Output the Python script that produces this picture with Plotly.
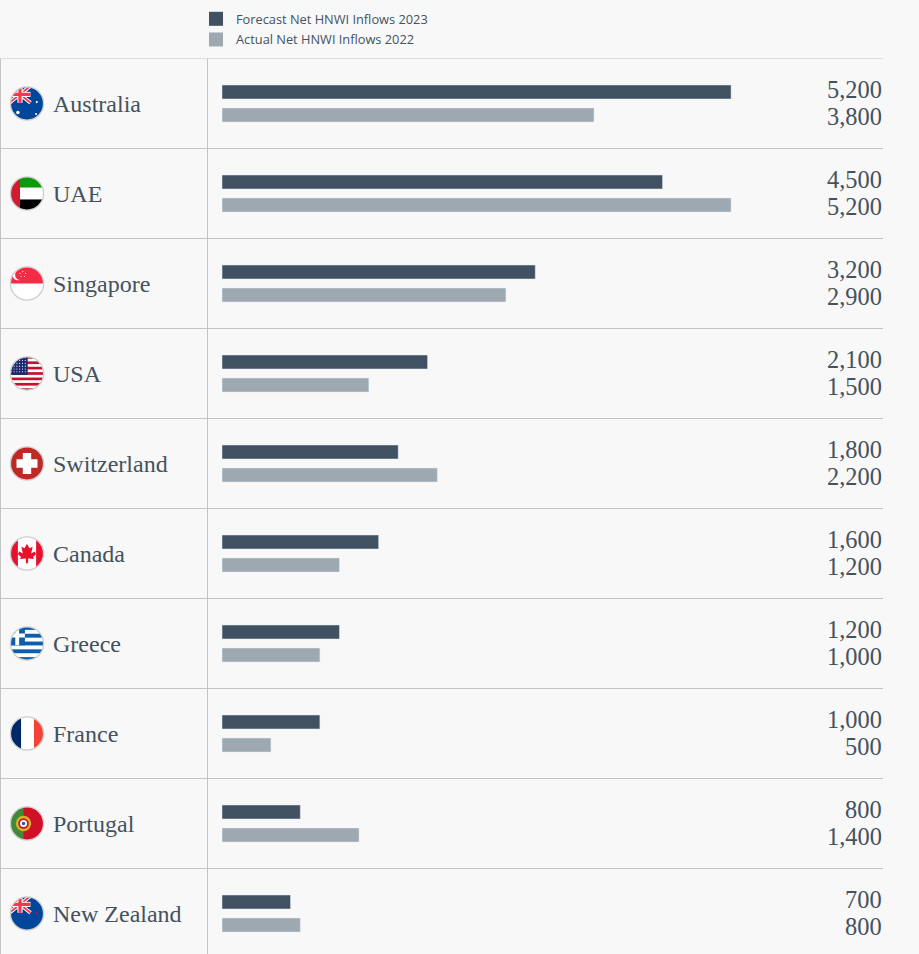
import base64
import plotly.graph_objects as go

# Data
countries = ['Australia', 'UAE', 'Singapore', 'USA', 'Switzerland',
             'Canada', 'Greece', 'France', 'Portugal', 'New Zealand']
forecast_2023 = [5200, 4500, 3200, 2100, 1800, 1600, 1200, 1000, 800, 700]
actual_2022 = [3800, 5200, 2900, 1500, 2200, 1200, 1000, 500, 1400, 800]

W, H = 919, 954
TOP = 58.5
DARK = '#405261'
LIGHT = '#9ea8b1'
TEXT = '#44525e'
RULE = '#c4c4c4'
BG = '#f8f8f8'


def union_jack(w=60, h=48):
    # union flag for the top left of the AU / NZ flags
    return (f'<rect width="{w}" height="{h}" fill="#00338d"/>'
            f'<path d="M0 0L{w} {h}M{w} 0L0 {h}" stroke="#fff" stroke-width="11"/>'
            f'<path d="M0 0L{w} {h}M{w} 0L0 {h}" stroke="#f0384f" stroke-width="5"/>'
            f'<path d="M{w/2} 0V{h}M0 {h/2}H{w}" stroke="#fff" stroke-width="15"/>'
            f'<path d="M{w/2} 0V{h}M0 {h/2}H{w}" stroke="#f0384f" stroke-width="9"/>')


def star(x, y, r, color='#fff'):
    return f'<circle cx="{x}" cy="{y}" r="{r}" fill="{color}"/>'


us_stripes = ''.join(f'<rect y="{i * 100 / 13:.2f}" width="100" height="{100 / 13:.2f}" fill="#c8102e"/>'
                     for i in range(0, 13, 2))
us_stars = ''.join(star(5 + c * 8, 5 + r * 8, 1.6) for r in range(6) for c in range(6))
gr_stripes = ''.join(f'<rect y="{i * 100 / 9:.2f}" width="100" height="{100 / 9:.2f}" fill="#0d5eaf"/>'
                     for i in range(0, 9, 2))
sg_stars = ''.join(star(x, y, 1.6) for x, y in [(38, 16), (46, 21), (43, 30), (33, 30), (30, 21)])

flags = {
    'Australia': '<rect width="100" height="100" fill="#00479b"/>' + union_jack()
                 + star(24, 76, 5) + star(78, 46, 3) + star(76, 80, 3),
    'UAE': '<rect width="100" height="100" fill="#fff"/><rect width="100" height="33" fill="#0a9a0a"/>'
           '<rect y="67" width="100" height="33" fill="#000"/><rect width="30" height="100" fill="#d01c2e"/>',
    'Singapore': '<rect width="100" height="100" fill="#fff"/><rect width="100" height="50" fill="#f72a45"/>'
                 '<circle cx="24" cy="25" r="16" fill="#fff"/><circle cx="31" cy="25" r="15" fill="#f72a45"/>' + sg_stars,
    'USA': '<rect width="100" height="100" fill="#fff"/>' + us_stripes
           + '<rect width="52" height="54" fill="#1c2a6e"/>' + us_stars,
    'Switzerland': '<rect width="100" height="100" fill="#bd2a26"/>'
                   '<path d="M38 20H62V38H80V62H62V80H38V62H20V38H38Z" fill="#fff"/>',
    'Canada': '<rect width="100" height="100" fill="#fff"/><rect width="24" height="100" fill="#e8112d"/>'
              '<rect x="76" width="24" height="100" fill="#e8112d"/>'
              '<path d="M50 22L57 35L66 31L62 50L72 44L76 52L67 60L70 66L53 64V78H47V64L30 66L33 60L24 52L28 44L38 50L34 31L43 35Z" fill="#e8112d"/>',
    'Greece': '<rect width="100" height="100" fill="#fff"/>' + gr_stripes
              + '<rect width="44" height="55" fill="#0d5eaf"/>'
                '<path d="M22 0V55M0 27H44" stroke="#fff" stroke-width="11"/>',
    'France': '<rect width="100" height="100" fill="#fff"/><rect width="33" height="100" fill="#002868"/>'
              '<rect x="70" width="30" height="100" fill="#f44336"/>',
    'Portugal': '<rect width="100" height="100" fill="#d01027"/><rect width="40" height="100" fill="#3d8b37"/>'
                '<circle cx="40" cy="50" r="22" fill="#d8b02c"/><circle cx="40" cy="50" r="15" fill="#d01027"/>'
                '<circle cx="40" cy="50" r="10" fill="#fff"/><circle cx="40" cy="50" r="5" fill="#1f5fa8"/>',
    'New Zealand': '<rect width="100" height="100" fill="#00479b"/>' + union_jack()
                   + star(78, 48, 3, '#c8102e'),
}


# Round flag badge as an svg data uri
def flag_uri(name):
    svg = ('<svg xmlns="http://www.w3.org/2000/svg" viewBox="0 0 100 100">'
           '<defs><clipPath id="c"><circle cx="50" cy="50" r="47"/></clipPath></defs>'
           f'<g clip-path="url(#c)">{flags[name]}</g>'
           '<circle cx="50" cy="50" r="47.5" fill="none" stroke="#cfcfcf" stroke-width="4"/></svg>')
    return 'data:image/svg+xml;base64,' + base64.b64encode(svg.encode()).decode()


fig = go.Figure()
fig.add_trace(go.Bar(y=countries, x=forecast_2023, orientation='h', marker_color=DARK, showlegend=False))
fig.add_trace(go.Bar(y=countries, x=actual_2022, orientation='h', marker_color=LIGHT, showlegend=False))
# legend entries only, the bar legend swatch is too small
for label, colour in [('Forecast Net HNWI Inflows 2023', DARK), ('Actual Net HNWI Inflows 2022', LIGHT)]:
    fig.add_trace(go.Scatter(x=[None], y=[None], mode='markers', name=label, legendgroup=label,
                             marker=dict(symbol='square', size=14, color=colour)))

shapes = []
annotations = []
images = []
for i, name in enumerate(countries):
    shapes.append(dict(type='line', xref='paper', yref='y', x0=0, x1=883 / W, y0=i - 0.5, y1=i - 0.5,
                       line=dict(color=RULE, width=1)))
    annotations.append(dict(x=51 / W, y=i, xref='paper', yref='y', text=name, showarrow=False, xanchor='left',
                            yshift=0, font=dict(family='Liberation Serif', size=24, color=TEXT)))
    annotations.append(dict(x=884 / W, y=i, xref='paper', yref='y', text=f'{forecast_2023[i]:,}', showarrow=False,
                            xanchor='right', yshift=14, font=dict(family='Liberation Serif', size=24.4, color=TEXT)))
    annotations.append(dict(x=884 / W, y=i, xref='paper', yref='y', text=f'{actual_2022[i]:,}', showarrow=False,
                            xanchor='right', yshift=-13, font=dict(family='Liberation Serif', size=24.4, color=TEXT)))
    images.append(dict(source=flag_uri(name), xref='paper', yref='y', x=27 / W, y=i, sizex=35 / W, sizey=35 / 90,
                       xanchor='center', yanchor='middle', sizing='contain', layer='above'))

# vertical rules of the table
for px in [0.5, 207.5]:
    shapes.append(dict(type='line', xref='paper', yref='paper', x0=px / W, x1=px / W, y0=0, y1=1 - TOP / H,
                       line=dict(color=RULE, width=1)))

fig.update_layout(
    width=W, height=H, autosize=False,
    margin=dict(l=0, r=0, t=0, b=0),
    paper_bgcolor=BG, plot_bgcolor=BG,
    barmode='group', bargap=44 / 90, bargroupgap=9 / 23,
    shapes=shapes, annotations=annotations, images=images,
    showlegend=True,
    legend=dict(x=196 / W, y=1 - 4 / H, xanchor='left', yanchor='top', bgcolor='rgba(0,0,0,0)',
                traceorder='grouped', tracegroupgap=1,
                font=dict(family='Open Sans', size=12.8, color=TEXT)),
    xaxis=dict(domain=[222 / W, 883 / W], range=[0, 661 / 0.0979], visible=False),
    yaxis=dict(domain=[0, 1 - TOP / H], range=[9.45, -0.5], visible=False),
)

fig.write_html("out.html", config={'displayModeBar': False},
               post_script="document.body.style.margin='0';document.body.style.overflow='hidden';")
